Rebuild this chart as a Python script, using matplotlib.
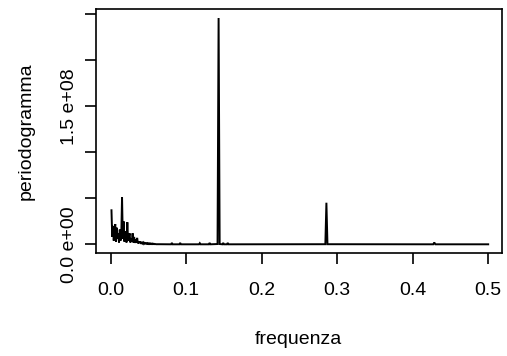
import matplotlib
matplotlib.use("Agg")
import matplotlib.pyplot as plt

plt.rcParams["font.family"] = ["Liberation Sans", "DejaVu Sans"]

# Periodogram ordinates (frequency in cycles per observation, value)
freq_low = [0.001, 0.002, 0.003, 0.004, 0.005, 0.006, 0.007, 0.008, 0.009, 0.010,
            0.011, 0.012, 0.013, 0.014, 0.015, 0.016, 0.017, 0.018, 0.019, 0.020,
            0.021, 0.022, 0.023, 0.024, 0.025, 0.026, 0.027, 0.028, 0.029, 0.030,
            0.031, 0.032, 0.033, 0.034, 0.035, 0.036, 0.037, 0.038, 0.039, 0.040,
            0.041, 0.042, 0.043, 0.044, 0.045, 0.046, 0.047, 0.048, 0.049, 0.050,
            0.051, 0.052, 0.053, 0.054, 0.055, 0.056, 0.057, 0.058, 0.059, 0.060]
pgram_low = [37e6, 8e6, 20e6, 4e6, 15e6, 22e6, 3e6, 18e6, 6e6, 12e6,
             2e6, 16e6, 4e6, 10e6, 51e6, 6e6, 25e6, 3e6, 14e6, 5e6,
             2e6, 24e6, 4e6, 8e6, 12e6, 2e6, 6e6, 3e6, 12e6, 2e6,
             8e6, 1.5e6, 5e6, 2e6, 7e6, 1e6, 3e6, 1.5e6, 3e6, 0.5e6,
             2.5e6, 1e6, 2e6, 0.5e6, 1.5e6, 0.8e6, 1.2e6, 0.5e6, 1.2e6, 0.4e6,
             1.0e6, 0.3e6, 0.9e6, 0.3e6, 0.8e6, 0.2e6, 0.6e6, 0.2e6, 0.3e6, 0.1e6]

freq_high = [0.065, 0.080, 0.081, 0.082, 0.091, 0.092, 0.093, 0.117, 0.118, 0.119,
             0.130, 0.131, 0.132, 0.1415, 0.1429, 0.1443, 0.148, 0.149, 0.150, 0.154,
             0.155, 0.156, 0.2843, 0.2857, 0.2871, 0.4272, 0.4286, 0.4300, 0.500]
pgram_high = [0.1e6, 0.0, 1.5e6, 0.0, 0.0, 1.5e6, 0.0, 0.0, 1.2e6, 0.0,
              0.0, 1.5e6, 0.0, 0.3e6, 246e6, 0.3e6, 0.0, 1.5e6, 0.0, 0.0,
              1.5e6, 0.0, 0.1e6, 45.2e6, 0.1e6, 0.0, 2e6, 0.0, 0.0]

x_ticks = [0.0, 0.1, 0.2, 0.3, 0.4, 0.5]
x_tick_labels = ["0.0", "0.1", "0.2", "0.3", "0.4", "0.5"]
y_ticks = [0, 5e7, 1e8, 1.5e8, 2e8, 2.5e8]
y_tick_labels = ["0.0 e+00", "", "", "1.5 e+08", "", ""]

W, H, DPI = 507, 356, 100
fig = plt.figure(figsize=(W / DPI, H / DPI), dpi=DPI)
left, right, top, bottom = 96.3, 502.0, 9.0, 253.3
ax = fig.add_axes([left / W, 1 - bottom / H, (right - left) / W, (bottom - top) / H])

ax.plot(freq_low + freq_high, pgram_low + pgram_high, color="black", lw=1.4,
        solid_joinstyle="miter")

ax.set_xlim(-0.0191, 0.5183)
ax.set_ylim(-9.78e6, 2.558e8)

fs = 14
ax.set_xticks(x_ticks)
ax.set_xticklabels(x_tick_labels, fontsize=fs)
ax.set_yticks(y_ticks)
ax.set_yticklabels(y_tick_labels, fontsize=fs, rotation=90, va="center")
ax.tick_params(axis="both", direction="out", length=8, width=1.2, color="black")
ax.tick_params(axis="x", pad=12.5)
ax.tick_params(axis="y", pad=5.5)
for s in ax.spines.values():
    s.set_linewidth(1.2)

fig.text(298.5 / W, 1 - 340 / H, "frequenza", ha="center", va="center", fontsize=fs)
fig.text(26 / W, 1 - 131 / H, "periodogramma", ha="center", va="center",
         rotation=90, fontsize=fs)

fig.savefig("out.png", dpi=DPI)
